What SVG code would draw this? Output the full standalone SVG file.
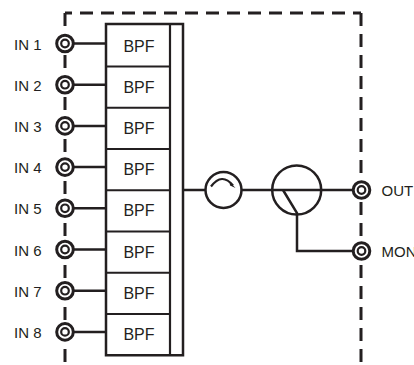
<svg xmlns="http://www.w3.org/2000/svg" width="414" height="365" viewBox="0 0 414 365">
<style>
.ln{stroke:#231f20;stroke-width:2.5;fill:none}
.dash{stroke:#231f20;stroke-width:3;fill:none;stroke-dasharray:13 8}
.box{stroke:#231f20;stroke-width:2.2;fill:none}
.ring{stroke:#231f20;stroke-width:3;fill:#fff}
.hole{stroke:#231f20;stroke-width:2.2;fill:#fff}
.lbl{font-family:"Liberation Sans",Arial,sans-serif;font-size:15px;fill:#231f20}
.bpf{font-family:"Liberation Sans",Arial,sans-serif;font-size:16px;fill:#231f20;text-anchor:middle}
</style>
<defs>
<g id="conn"><circle class="ring" r="8.3"/><circle class="hole" r="3.8"/></g>
</defs>
<rect width="414" height="365" fill="#fff"/>
<g id="enclosure">
<path class="dash" d="M65,13 H361" stroke-dashoffset="6"/>
<path class="dash" d="M65,13 V365"/>
<path class="dash" d="M361,13 V365"/>
</g>
<g id="connectors">
<path class="ln" d="M65,43.5 H106 M65,84.7 H106 M65,125.9 H106 M65,167.1 H106 M65,208.3 H106 M65,249.5 H106 M65,290.7 H106 M65,331.9 H106"/>
<path class="ln" d="M183,190 H205.5 M241.5,190 H361"/>
<path class="ln" d="M283,190 L297,213 V251 H361"/>
</g>
<g id="filter-bank">
<rect class="ln" x="106" y="24" width="77" height="331.25"/>
<path class="box" d="M170,24 V355.25 M106,66.5 H170 M106,107.75 H170 M106,149 H170 M106,190.25 H170 M106,231.5 H170 M106,272.75 H170 M106,314 H170"/>
<text class="bpf" x="139" y="51.5">BPF</text>
<text class="bpf" x="139" y="92.7">BPF</text>
<text class="bpf" x="139" y="133.9">BPF</text>
<text class="bpf" x="139" y="175.1">BPF</text>
<text class="bpf" x="139" y="216.3">BPF</text>
<text class="bpf" x="139" y="257.5">BPF</text>
<text class="bpf" x="139" y="298.7">BPF</text>
<text class="bpf" x="139" y="339.9">BPF</text>
</g>
<g id="isolator">
<circle class="ln" cx="223.5" cy="190" r="18"/>
<path d="M211,186.5 Q222,172 233,185.5" stroke="#231f20" stroke-width="2.2" fill="none"/>
<polygon points="229.5,181.5 235.5,188 230,185.5" fill="#231f20"/>
</g>
<g id="coupler">
<circle class="ln" cx="296.7" cy="190" r="24.5"/>
</g>
<g id="in1"><use href="#conn" x="65" y="43.5"/><text class="lbl" x="14" y="49.5">IN 1</text></g>
<g id="in2"><use href="#conn" x="65" y="84.7"/><text class="lbl" x="14" y="90.7">IN 2</text></g>
<g id="in3"><use href="#conn" x="65" y="125.9"/><text class="lbl" x="14" y="131.9">IN 3</text></g>
<g id="in4"><use href="#conn" x="65" y="167.1"/><text class="lbl" x="14" y="173.1">IN 4</text></g>
<g id="in5"><use href="#conn" x="65" y="208.3"/><text class="lbl" x="14" y="214.3">IN 5</text></g>
<g id="in6"><use href="#conn" x="65" y="249.5"/><text class="lbl" x="14" y="255.5">IN 6</text></g>
<g id="in7"><use href="#conn" x="65" y="290.7"/><text class="lbl" x="14" y="296.7">IN 7</text></g>
<g id="in8"><use href="#conn" x="65" y="331.9"/><text class="lbl" x="14" y="337.9">IN 8</text></g>
<g id="out"><use href="#conn" x="361.5" y="190"/><text class="lbl" x="381.5" y="196">OUT</text></g>
<g id="mon"><use href="#conn" x="361.5" y="251"/><text class="lbl" x="381.5" y="257">MON</text></g>
</svg>
